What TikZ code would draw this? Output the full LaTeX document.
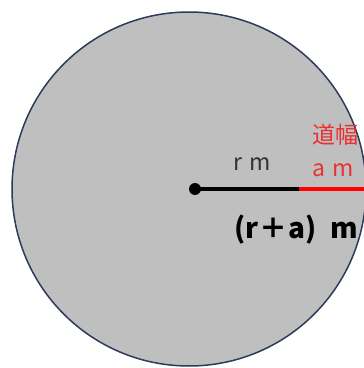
\documentclass[tikz,border=0pt]{standalone}
\usepackage{fontspec}
\setmainfont{Noto Sans CJK JP}
\usepackage{xcolor}
\usepackage{tikz}
\usetikzlibrary{positioning,calc}
\definecolor{plate}{RGB}{191,191,191}
\definecolor{rim}{RGB}{45,60,90}
\definecolor{roadred}{RGB}{255,0,0}
\definecolor{labred}{RGB}{235,50,50}
\tikzset{
  plot/.style={fill=plate, draw=rim, line width=1.5pt},
  centre/.style={circle, fill=black, inner sep=0pt, minimum size=12pt},
  radius line/.style={line width=3.5pt},
  width line/.style={line width=3.5pt, draw=roadred},
  lab/.style={font=\fontsize{23}{26}\selectfont, inner sep=0pt, anchor=base west},
  sumlab/.style={font=\fontsize{28}{32}\selectfont\bfseries, inner sep=0pt, anchor=base west}
}

\begin{document}
\begin{tikzpicture}[x=1pt,y=1pt]
\useasboundingbox (0,0) rectangle (364,368);
\clip (0,0) rectangle (364,368);
\draw[plot] (189,179) circle (177);
\node[centre] (o) at (195,179) {};
\coordinate (j) at (299,179);
\coordinate (e) at (368,179);
\draw[radius line] (o.center) -- (j);
\draw[width line] (j) -- (e);
\node[lab, text=black!80] (r) at (233,197) {r\hspace{0.3em}m};
\node[lab, text=labred] (road) at (312,225) {道幅};
\node[lab, text=labred] (a) at (312,191) {a\hspace{0.3em}m};
\node[sumlab] (ra) at (234,130) {(r\kern1pt＋\kern1pt a)\hspace{0.5em}m};
\end{tikzpicture}
\end{document}
